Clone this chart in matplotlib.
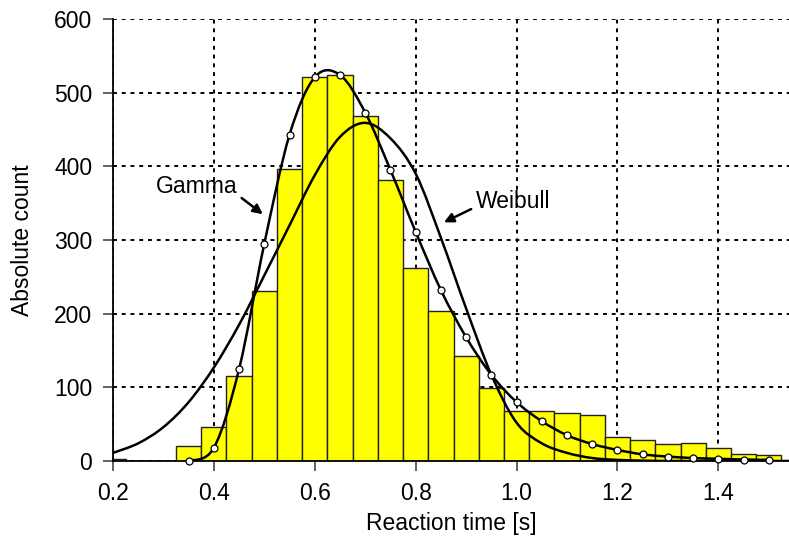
import numpy as np
import matplotlib
matplotlib.use("Agg")
import matplotlib.pyplot as plt
from matplotlib.path import Path
from matplotlib.patches import PathPatch

plt.rcParams['font.family'] = ['Liberation Sans', 'DejaVu Sans']

# Histogram: bin centres (width 0.05) and counts
bin_centres = [0.20, 0.25, 0.30, 0.35, 0.40, 0.45, 0.50, 0.55, 0.60, 0.65, 0.70,
               0.75, 0.80, 0.85, 0.90, 0.95, 1.00, 1.05, 1.10, 1.15, 1.20, 1.25,
               1.30, 1.35, 1.40, 1.45, 1.50]
counts = [3, 0, 0, 21, 46, 115, 231, 397, 521, 524, 468,
          382, 262, 204, 143, 99, 68, 68, 65, 63, 33, 28,
          23, 25, 17, 10, 8]

# Gamma fit (with markers)
gamma_x = [0.35, 0.40, 0.45, 0.50, 0.55, 0.60, 0.65, 0.70, 0.75, 0.80, 0.85, 0.90,
           0.95, 1.00, 1.05, 1.10, 1.15, 1.20, 1.25, 1.30, 1.35, 1.40, 1.45, 1.50]
gamma_y = [0, 18, 125, 295, 443, 521, 524, 473, 395, 311, 232, 168,
           117, 80, 54, 35, 23, 15, 9, 6, 4, 3, 2, 1.5]

# Weibull fit
weibull_x = [0.20, 0.25, 0.30, 0.35, 0.40, 0.45, 0.50, 0.55, 0.60, 0.65, 0.70, 0.75,
             0.80, 0.85, 0.90, 0.95, 1.00, 1.05, 1.10, 1.15, 1.20, 1.25, 1.30, 1.40, 1.55]
weibull_y = [11, 24, 46, 80, 127, 185, 252, 320, 388, 440, 459, 438,
             390, 303, 207, 117, 52, 24, 11, 4, 1.5, 0.5, 0, 0, 0]


def smooth_path(xs, ys):
    # Catmull-Rom through the read points, drawn as Bezier segments
    pts = np.column_stack([xs, ys]).astype(float)
    n = len(pts)
    verts = [pts[0]]
    codes = [Path.MOVETO]
    for i in range(n - 1):
        p0 = pts[max(i - 1, 0)]
        p1 = pts[i]
        p2 = pts[i + 1]
        p3 = pts[min(i + 2, n - 1)]
        verts += [p1 + (p2 - p0) / 6, p2 - (p3 - p1) / 6, p2]
        codes += [Path.CURVE4] * 3
    return Path(verts, codes)


fig = plt.figure(figsize=(7.89, 5.4), dpi=100)
ax = fig.add_axes([0.1432, 0.1463, 0.8568, 0.8185])

ax.bar(bin_centres, counts, width=0.05, color='#FFFF00', edgecolor='#222222',
       linewidth=1.0, zorder=2)

ax.add_patch(PathPatch(smooth_path(weibull_x, weibull_y), fill=False,
                       edgecolor='black', lw=1.8, zorder=3))
ax.add_patch(PathPatch(smooth_path(gamma_x, gamma_y), fill=False,
                       edgecolor='black', lw=1.8, zorder=3))
ax.plot(gamma_x, gamma_y, linestyle='none', marker='o', markersize=5,
        markerfacecolor='white', markeredgecolor='black', markeredgewidth=0.9,
        zorder=4, clip_on=False)

# Labels and arrows
ax.text(0.365, 373, 'Gamma', fontsize=16.5, ha='center', va='center')
ax.annotate('', xy=(0.497, 335), xytext=(0.455, 357),
            arrowprops=dict(arrowstyle='-|>', color='black', lw=1.8,
                            mutation_scale=14, shrinkA=0, shrinkB=0))
ax.text(0.994, 352, 'Weibull', fontsize=16.5, ha='center', va='center')
ax.annotate('', xy=(0.856, 324), xytext=(0.910, 342),
            arrowprops=dict(arrowstyle='-|>', color='black', lw=1.8,
                            mutation_scale=14, shrinkA=0, shrinkB=0))

ax.set_xlim(0.2, 1.54)
ax.set_ylim(0, 600)
ax.set_xticks([0.2, 0.4, 0.6, 0.8, 1.0, 1.2, 1.4])
ax.set_xticklabels(['0.2', '0.4', '0.6', '0.8', '1.0', '1.2', '1.4'])
ax.set_yticks([0, 100, 200, 300, 400, 500, 600])

ax.grid(True, color='black', linestyle=(0, (2, 2.5)), linewidth=1.4, zorder=1)
ax.set_axisbelow(True)
ax.spines['top'].set_visible(False)
ax.spines['right'].set_visible(False)
ax.spines['left'].set_linewidth(1.3)
ax.spines['bottom'].set_linewidth(1.3)
ax.tick_params(direction='out', length=7, width=1.3, color='#555555',
               labelsize=16.5, pad=8)

ax.set_xlabel('Reaction time [s]', fontsize=16.5, labelpad=5)
ax.set_ylabel('Absolute count', fontsize=16.5, labelpad=14)

fig.savefig('out.png', dpi=100)
